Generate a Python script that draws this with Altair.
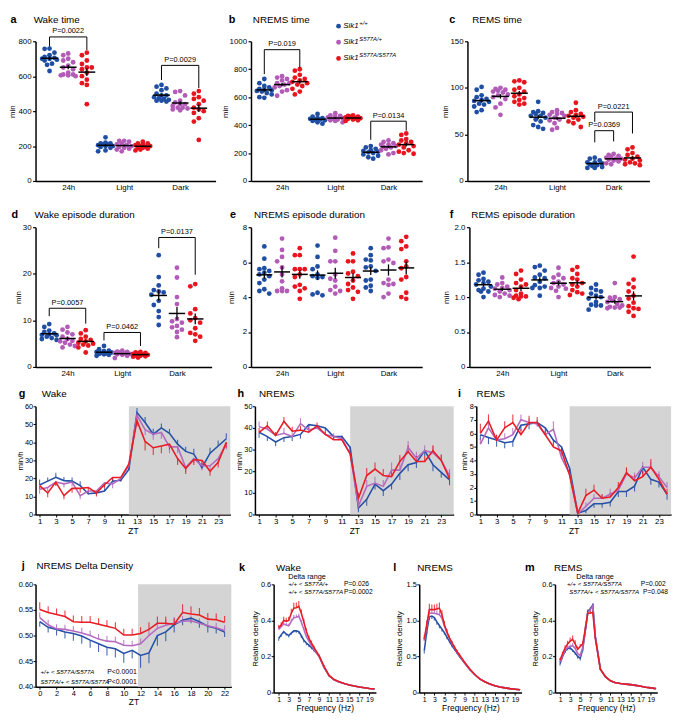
import math
import altair as alt
import numpy as np
import pandas as pd

FONT = "Liberation Sans"
BLUE, PURPLE, RED = "#1f4ea3", "#b35cb7", "#e8151e"
DOT_COLORS = [BLUE, PURPLE, RED]
LINE_COLORS = ["#2550a6", "#b46ac0", "#e81c24"]
CATS = ["24h", "Light", "Dark"]
GENOS = ["+/+", "S577A/+", "S577A/S577A"]

WAKE_TIME = {
    "24h": [[758, 757, 735, 720, 710, 705, 700, 700, 695, 690, 672, 665, 630],
            [730, 720, 700, 690, 680, 660, 650, 640, 620, 610, 610, 605, 605, 600],
            [735, 720, 690, 670, 650, 650, 640, 620, 600, 580, 560, 550, 440]],
    "Light": [[250, 220, 215, 215, 210, 210, 205, 200, 200, 195, 190, 175, 170],
              [230, 230, 225, 215, 210, 205, 200, 195, 190, 185, 180, 170],
              [225, 215, 215, 210, 205, 200, 200, 195, 190, 190, 185, 180, 175]],
    "Dark": [[550, 540, 530, 520, 500, 490, 490, 480, 475, 470, 465, 460, 460, 455],
             [515, 510, 490, 460, 450, 440, 440, 430, 420, 420, 415, 410, 405],
             [515, 500, 480, 470, 460, 440, 420, 410, 400, 390, 360, 340, 235]],
}
NREMS_TIME = {
    "24h": [[730, 700, 680, 670, 660, 655, 650, 645, 640, 630, 620, 600, 595],
            [750, 740, 730, 720, 700, 700, 690, 680, 670, 650, 640, 610],
            [800, 790, 760, 740, 730, 720, 710, 700, 690, 680, 660, 640, 620]],
    "Light": [[480, 460, 450, 450, 445, 440, 440, 435, 430, 420, 410],
              [485, 470, 465, 460, 455, 450, 445, 440, 435, 430, 420],
              [470, 465, 460, 460, 455, 450, 450, 445, 440, 435, 430]],
    "Dark": [[250, 240, 230, 220, 215, 210, 205, 200, 190, 180, 170, 160],
             [290, 280, 270, 260, 260, 250, 245, 240, 230, 220, 200, 190],
             [340, 330, 300, 290, 280, 270, 260, 250, 240, 220, 210, 200, 195]],
}
REMS_TIME = {
    "24h": [[101, 98, 92, 90, 88, 87, 86, 85, 83, 82, 80, 76, 74],
            [100, 99, 98, 97, 96, 95, 93, 92, 90, 88, 83, 79, 71],
            [108, 107, 106, 100, 98, 96, 93, 91, 89, 87, 85, 83, 82]],
    "Light": [[85, 75, 74, 73, 72, 70, 70, 68, 66, 64, 60, 58, 56],
              [76, 74, 73, 72, 71, 70, 68, 66, 65, 62, 57, 55],
              [84, 76, 74, 72, 71, 70, 69, 68, 66, 64, 62, 58]],
    "Dark": [[25, 24, 22, 20, 20, 19, 18, 17, 16, 15, 14, 14],
             [29, 28, 27, 26, 25, 24, 24, 23, 22, 21, 19, 18],
             [36, 34, 30, 28, 26, 24, 23, 22, 20, 19, 18, 17]],
}
WAKE_EPI = {
    "24h": [[9.2, 8.6, 7.8, 7.5, 7.2, 7.0, 6.9, 6.8, 6.5, 6.2, 6.0, 5.8],
            [8.6, 8.0, 7.4, 7.0, 6.5, 6.0, 5.6, 5.5, 5.2, 4.8, 4.5, 4.2],
            [7.9, 7.2, 6.5, 6.0, 5.8, 5.5, 5.2, 5.0, 4.8, 4.6, 4.2, 3.1]],
    "Light": [[4.5, 3.8, 3.5, 3.4, 3.2, 3.1, 3.0, 2.9, 2.8, 2.7, 2.6, 2.4],
              [3.5, 3.3, 3.2, 3.1, 3.0, 2.9, 2.8, 2.7, 2.6, 2.4, 1.9],
              [3.2, 3.1, 3.0, 2.9, 2.8, 2.7, 2.6, 2.5, 2.4, 2.3, 2.2, 2.0]],
    "Dark": [[24.0, 19.3, 17.5, 16.5, 16.2, 16.0, 15.5, 14.2, 13.3, 12.0, 10.7, 9.0],
             [21.3, 19.2, 15.0, 13.5, 10.3, 9.8, 9.5, 8.8, 8.5, 8.0, 7.5, 6.4],
             [17.8, 17.3, 12.4, 11.5, 10.5, 10.0, 9.5, 8.3, 7.3, 7.0, 6.5, 5.6]],
}
NREMS_EPI = {
    "24h": [[6.9, 6.2, 5.65, 5.6, 5.5, 5.4, 5.3, 5.2, 5.0, 4.8, 4.45, 4.35, 4.2],
            [7.35, 6.7, 6.3, 6.05, 5.7, 5.3, 4.9, 4.5, 4.35, 4.35, 4.35],
            [6.8, 6.4, 6.4, 5.6, 5.6, 5.6, 5.3, 5.15, 4.7, 4.6, 4.5, 4.35, 3.9]],
    "Light": [[6.95, 6.3, 5.75, 5.6, 5.3, 5.2, 5.15, 5.1, 4.25, 4.15, 4.1],
              [7.4, 6.65, 6.05, 6.05, 5.3, 5.05, 4.95, 4.6, 4.4, 4.35, 4.2],
              [6.5, 6.05, 6.05, 5.45, 5.35, 5.2, 4.95, 4.75, 4.55, 4.4, 4.3, 3.9]],
    "Dark": [[6.8, 6.4, 6.15, 6.1, 5.75, 5.7, 5.5, 5.0, 4.95, 4.65, 4.55, 4.35],
             [7.35, 6.85, 6.8, 6.15, 6.05, 5.95, 5.0, 4.8, 4.75, 4.7, 4.2, 4.0],
             [7.45, 7.2, 6.9, 6.75, 6.05, 5.75, 5.65, 5.15, 5.0, 4.25, 4.0, 3.9]],
}
REMS_EPI = {
    "24h": [[1.35, 1.32, 1.26, 1.24, 1.22, 1.2, 1.18, 1.15, 1.12, 1.1, 1.08, 1.08, 1.0],
            [1.28, 1.2, 1.18, 1.15, 1.13, 1.12, 1.1, 1.08, 1.05, 1.03, 1.02, 1.0],
            [1.38, 1.33, 1.25, 1.2, 1.18, 1.15, 1.1, 1.05, 1.02, 1.01, 1.01, 0.99, 0.97]],
    "Light": [[1.45, 1.43, 1.38, 1.32, 1.28, 1.27, 1.22, 1.17, 1.15, 1.13, 1.13, 1.02],
              [1.42, 1.32, 1.28, 1.27, 1.22, 1.2, 1.18, 1.15, 1.13, 1.12, 1.09, 1.0],
              [1.43, 1.39, 1.33, 1.27, 1.25, 1.2, 1.18, 1.15, 1.1, 1.07, 1.05, 1.03]],
    "Dark": [[1.18, 1.13, 1.1, 1.08, 1.05, 1.02, 1.0, 0.98, 0.93, 0.89, 0.88, 0.88, 0.82],
             [1.2, 1.0, 0.99, 0.97, 0.95, 0.93, 0.9, 0.88, 0.86, 0.85, 0.85, 0.84],
             [1.58, 1.25, 1.19, 1.14, 1.08, 1.02, 0.98, 0.92, 0.87, 0.84, 0.83, 0.79, 0.73]],
}

BRACKETS_A = [(0, 0, 2, 825, 770, 750, "P=0.0022"), (2, 0, 2, 662, 578, 532, "P=0.0029")]
BRACKETS_B = [(0, 0, 2, 940, 765, 812, "P=0.019"), (2, 0, 2, 428, 295, 360, "P=0.0134")]
BRACKETS_C = [(2, 0, 1, 54, 41.5, 42.5, "P=0.0369"), (2, 0, 2, 74, 63.5, 51, "P=0.0221")]
BRACKETS_D = [(0, 0, 2, 12.6, 10.9, 9.3, "P=0.0057"), (1, 0, 2, 7.4, 5.7, 4.5, "P=0.0462"),
              (2, 0, 2, 27.8, 25.5, 19.8, "P=0.0137")]

ZT = list(range(1, 25))
WAKE_ZT = [
    [16.4, 18.5, 20.6, 18.8, 18.5, 16, 11.5, 12, 13, 18.5, 19, 25, 56.5, 51, 44.5, 48, 45, 39, 35, 33.5, 26, 34, 38, 42],
    [14, 15, 18, 17, 18, 10.5, 13, 13, 17.5, 17, 20, 27, 55, 47, 44.5, 45.5, 37.5, 37.5, 26, 31, 27, 27, 31, 39],
    [16, 12, 18, 10.5, 14.5, 14.5, 15, 12, 16.5, 20.5, 20.5, 28, 52, 40.5, 37, 38, 39, 31, 25.5, 30.5, 30, 24, 29, 40],
]
WAKE_ZT_SEM = [
    [3, 2, 2.5, 2, 2, 2.5, 1.5, 1.5, 1.5, 2, 2, 2.5, 2.5, 3, 3, 2.5, 2.5, 2.5, 2.5, 3, 2.5, 3, 3, 3],
    [2.5, 2, 2, 2, 2.5, 2, 2, 2, 2, 2.5, 2, 2.5, 3, 3, 3, 3.5, 3.5, 3.5, 2.5, 2.5, 2.5, 2.5, 3, 3],
    [2, 2.5, 2, 2, 2.5, 2.5, 2, 2, 2, 2, 2, 2.5, 3, 5, 4, 4, 3, 3.5, 3, 3, 3, 2.5, 3, 3],
]
NREMS_ZT = [
    [38, 36, 33.5, 35.5, 36, 37, 41.5, 41, 40, 36, 36, 31, 3, 7, 14, 11, 14, 19, 23, 24, 29.5, 23, 19.5, 16],
    [40.5, 39.5, 36.5, 37.5, 36, 42, 39, 40, 37, 36, 35, 28, 4, 13, 14.5, 13, 20.5, 20.5, 31, 26, 29.5, 28.5, 25, 18],
    [38, 41, 36.5, 43, 38.5, 39, 38, 41, 37, 34.5, 34.5, 28, 7.5, 18, 21, 18, 17.5, 24.5, 29, 24.5, 24.5, 29.5, 25, 16.5],
]
NREMS_ZT_SEM = [
    [2.5, 2, 2, 2, 2, 2, 1.5, 1.5, 1.5, 1.5, 1.5, 2, 2, 3, 2.5, 2.5, 2.5, 3, 3, 2.5, 2.5, 3, 2.5, 2.5],
    [2.5, 2, 1.5, 2.5, 2, 2.5, 2, 1.5, 1.5, 1.5, 1.5, 2, 2.5, 3, 3, 3, 3.5, 3.5, 3, 3, 2.5, 3, 3, 3],
    [2, 2, 1.5, 2, 2, 2, 2, 1.5, 1.5, 1.5, 1.5, 2, 2.5, 3.5, 3, 3, 3, 3, 3, 2.5, 2.5, 2.5, 2.5, 2.5],
]
REMS_ZT = [
    [5.9, 5.7, 5.5, 5.3, 5.4, 6.6, 6.7, 6.8, 6.4, 5.5, 5.0, 3.4, 0.1, 0.3, 0.8, 0.8, 0.9, 1.7, 1.7, 2.1, 3.5, 2.6, 2.4, 1.5],
    [5.2, 6.4, 5.5, 5.6, 5.9, 7.0, 6.8, 6.7, 5.9, 6.3, 4.2, 3.0, 0.05, 0.6, 1.2, 1.2, 1.5, 1.8, 3.0, 2.7, 3.5, 3.5, 2.8, 2.0],
    [6.0, 6.9, 5.5, 6.4, 6.8, 5.9, 6.8, 6.8, 5.9, 5.0, 4.7, 2.9, 0.1, 1.4, 1.8, 1.2, 1.3, 2.0, 3.1, 2.5, 2.8, 3.5, 2.6, 1.5],
]
REMS_ZT_SEM = [
    [0.4, 0.5, 0.5, 0.4, 0.4, 0.4, 0.4, 0.3, 0.3, 0.3, 0.3, 0.4, 0.1, 0.2, 0.3, 0.3, 0.3, 0.4, 0.4, 0.4, 0.5, 0.4, 0.4, 0.4],
    [0.4, 0.5, 0.4, 0.4, 0.5, 0.4, 0.3, 0.3, 0.3, 0.6, 0.4, 0.4, 0.1, 0.3, 0.3, 0.3, 0.4, 0.4, 0.4, 0.4, 0.4, 0.4, 0.4, 0.4],
    [0.7, 0.5, 0.4, 0.5, 0.6, 0.4, 0.5, 0.4, 0.3, 0.3, 0.3, 0.4, 0.1, 0.5, 0.4, 0.3, 0.3, 0.4, 0.4, 0.4, 0.4, 0.6, 0.4, 0.4],
]

ZT_J = list(range(0, 23))
DELTA = [
    [0.527, 0.516, 0.512, 0.507, 0.504, 0.499, 0.491, 0.484, 0.477, 0.474, 0.465, 0.471, 0.461, 0.466, 0.500, 0.507, 0.521, 0.530, 0.534, 0.527, 0.518, 0.514, 0.507],
    [0.535, 0.521, 0.513, 0.512, 0.509, 0.505, 0.500, 0.493, 0.489, 0.488, 0.481, 0.480, 0.484, 0.500, 0.514, 0.520, 0.524, 0.528, 0.529, 0.524, 0.519, 0.515, 0.510],
    [0.551, 0.545, 0.541, 0.537, 0.527, 0.526, 0.526, 0.522, 0.518, 0.514, 0.501, 0.501, 0.504, 0.512, 0.524, 0.524, 0.522, 0.545, 0.542, 0.540, 0.532, 0.531, 0.526],
]
DELTA_SEM = [
    [0.01, 0.01, 0.012, 0.013, 0.014, 0.015, 0.015, 0.016, 0.016, 0.017, 0.018, 0.016, 0.024, 0.02, 0.02, 0.018, 0.015, 0.01, 0.01, 0.012, 0.012, 0.01, 0.01],
    [0.01, 0.01, 0.009, 0.009, 0.009, 0.01, 0.01, 0.01, 0.01, 0.01, 0.01, 0.01, 0.01, 0.012, 0.012, 0.012, 0.012, 0.01, 0.01, 0.01, 0.01, 0.01, 0.01],
    [0.014, 0.012, 0.012, 0.012, 0.012, 0.012, 0.012, 0.012, 0.012, 0.012, 0.012, 0.012, 0.012, 0.014, 0.013, 0.013, 0.012, 0.016, 0.015, 0.014, 0.012, 0.012, 0.012],
]

FREQ = [1, 1.5, 2, 2.5, 3, 3.5, 4, 4.5, 5, 5.5, 6, 6.5, 7, 7.5, 8, 9, 10, 11, 12, 13, 14, 15, 16, 17, 18, 19, 20]
SPEC_WAKE = [
    [0.30, 0.32, 0.338, 0.325, 0.316, 0.33, 0.343, 0.342, 0.338, 0.315, 0.29, 0.275, 0.263, 0.25, 0.236, 0.205, 0.14, 0.093, 0.071, 0.059, 0.05, 0.042, 0.036, 0.031, 0.027, 0.023, 0.02],
    [0.35, 0.365, 0.38, 0.375, 0.37, 0.395, 0.415, 0.418, 0.423, 0.39, 0.35, 0.31, 0.285, 0.26, 0.24, 0.2, 0.14, 0.093, 0.071, 0.059, 0.05, 0.042, 0.036, 0.031, 0.027, 0.023, 0.02],
    [0.36, 0.375, 0.40, 0.395, 0.40, 0.44, 0.468, 0.47, 0.478, 0.44, 0.39, 0.34, 0.30, 0.275, 0.25, 0.205, 0.145, 0.095, 0.072, 0.06, 0.05, 0.042, 0.036, 0.031, 0.027, 0.023, 0.02],
]
SPEC_WAKE_SEM = [
    [0.012, 0.01, 0.01, 0.01, 0.01, 0.01, 0.01, 0.01, 0.012, 0.012, 0.012, 0.012, 0.012, 0.01, 0.008, 0.006, 0.005, 0.004, 0.003, 0.003, 0.002, 0.002, 0.002, 0.002, 0.002, 0.002, 0.002],
    [0.01, 0.01, 0.012, 0.012, 0.012, 0.015, 0.015, 0.015, 0.015, 0.012, 0.012, 0.01, 0.01, 0.01, 0.008, 0.006, 0.005, 0.004, 0.003, 0.003, 0.002, 0.002, 0.002, 0.002, 0.002, 0.002, 0.002],
    [0.015, 0.015, 0.02, 0.02, 0.02, 0.025, 0.03, 0.03, 0.03, 0.02, 0.02, 0.015, 0.015, 0.012, 0.01, 0.008, 0.006, 0.004, 0.003, 0.003, 0.002, 0.002, 0.002, 0.002, 0.002, 0.002, 0.002],
]
SPEC_NREMS = [
    [0.58, 0.85, 1.05, 1.06, 1.04, 0.98, 0.93, 0.88, 0.83, 0.77, 0.71, 0.65, 0.6, 0.55, 0.5, 0.41, 0.32, 0.25, 0.19, 0.15, 0.12, 0.095, 0.078, 0.065, 0.055, 0.047, 0.04],
    [0.72, 0.92, 1.10, 1.10, 1.10, 1.09, 1.08, 1.03, 0.92, 0.83, 0.75, 0.68, 0.62, 0.56, 0.51, 0.41, 0.32, 0.25, 0.19, 0.15, 0.12, 0.095, 0.078, 0.065, 0.055, 0.047, 0.04],
    [0.74, 0.95, 1.15, 1.15, 1.15, 1.16, 1.17, 1.08, 0.94, 0.84, 0.76, 0.69, 0.63, 0.57, 0.52, 0.42, 0.33, 0.25, 0.19, 0.15, 0.12, 0.095, 0.078, 0.065, 0.055, 0.047, 0.04],
]
SPEC_NREMS_SEM = [
    [0.04, 0.04, 0.04, 0.04, 0.04, 0.04, 0.04, 0.035, 0.03, 0.03, 0.025, 0.02, 0.02, 0.015, 0.012, 0.01, 0.008, 0.006, 0.005, 0.004, 0.004, 0.003, 0.003, 0.003, 0.003, 0.003, 0.003],
    [0.05, 0.04, 0.05, 0.05, 0.05, 0.05, 0.05, 0.04, 0.04, 0.03, 0.03, 0.025, 0.02, 0.02, 0.015, 0.012, 0.01, 0.008, 0.006, 0.005, 0.004, 0.004, 0.003, 0.003, 0.003, 0.003, 0.003],
    [0.06, 0.05, 0.08, 0.07, 0.07, 0.07, 0.08, 0.06, 0.05, 0.04, 0.03, 0.03, 0.025, 0.02, 0.02, 0.015, 0.012, 0.01, 0.008, 0.006, 0.005, 0.004, 0.004, 0.003, 0.003, 0.003, 0.003],
]
SPEC_REMS = [
    [0.16, 0.2, 0.23, 0.245, 0.248, 0.235, 0.22, 0.2, 0.19, 0.24, 0.34, 0.45, 0.465, 0.485, 0.31, 0.13, 0.088, 0.065, 0.055, 0.05, 0.047, 0.044, 0.04, 0.035, 0.03, 0.026, 0.022],
    [0.17, 0.205, 0.235, 0.25, 0.255, 0.26, 0.245, 0.215, 0.205, 0.25, 0.34, 0.44, 0.46, 0.48, 0.31, 0.13, 0.088, 0.065, 0.055, 0.05, 0.047, 0.044, 0.04, 0.035, 0.03, 0.026, 0.022],
    [0.18, 0.215, 0.247, 0.27, 0.285, 0.295, 0.27, 0.24, 0.255, 0.27, 0.35, 0.44, 0.44, 0.445, 0.30, 0.13, 0.088, 0.065, 0.055, 0.05, 0.047, 0.044, 0.04, 0.035, 0.03, 0.026, 0.022],
]
SPEC_REMS_SEM = [
    [0.01, 0.01, 0.01, 0.01, 0.01, 0.01, 0.012, 0.012, 0.012, 0.012, 0.015, 0.015, 0.015, 0.015, 0.012, 0.006, 0.004, 0.003, 0.003, 0.003, 0.003, 0.003, 0.003, 0.003, 0.002, 0.002, 0.002],
    [0.01, 0.01, 0.012, 0.012, 0.012, 0.015, 0.015, 0.012, 0.012, 0.012, 0.015, 0.015, 0.015, 0.015, 0.012, 0.006, 0.004, 0.003, 0.003, 0.003, 0.003, 0.003, 0.003, 0.003, 0.002, 0.002, 0.002],
    [0.012, 0.012, 0.015, 0.018, 0.02, 0.022, 0.02, 0.015, 0.015, 0.015, 0.02, 0.02, 0.02, 0.02, 0.015, 0.008, 0.005, 0.004, 0.003, 0.003, 0.003, 0.003, 0.003, 0.003, 0.002, 0.002, 0.002],
]

# ============================================================================
ONE = pd.DataFrame({"k": [0]})


def frame(W, H, L, R, T, B):
    # invisible outer box of each panel: fixes the concat layout
    return alt.Chart(ONE).mark_rect(opacity=0).encode(
        x=alt.value(-L), x2=alt.value(W + R), y=alt.value(-T), y2=alt.value(H + B))


def label(text, x, y, size=8.0, weight="normal", style="normal", align="left",
          baseline="middle"):
    return alt.Chart(ONE).mark_text(
        text=text, font=FONT, fontSize=size, fontWeight=weight, fontStyle=style,
        align=align, baseline=baseline, color="black").encode(x=alt.value(x), y=alt.value(y))


def heading(letter, title, lx, tx, ty):
    return [label(letter, lx, ty, size=11, weight="bold"), label(title, tx, ty, size=10)]


def swarm(vals, ypx, xpx, d=5.0):
    order = sorted(range(len(vals)), key=lambda i: -vals[i])
    placed, out = [], [0.0] * len(vals)
    cands = [0.0, -5.0, 5.0, -2.5, 2.5, -7.5, 7.5]
    for i in order:
        y = vals[i] * ypx
        best, bestc, bestd = None, 0.0, -1.0
        for c in cands:
            md = min((math.hypot(c - px, y - py) for px, py in placed), default=1e9)
            if md >= d:
                best = c
                break
            if md > bestd:
                bestd, bestc = md, c
        if best is None:
            best = bestc
        placed.append((best, y))
        out[i] = best / xpx
    return out


XD = [-1.75, 7.9]


def dot_panel(data, ymax, yticks, ylab_expr, geom, head, brackets, ytx, extra=()):
    W, H, L, R, T, B = geom
    xpx = W / (XD[1] - XD[0])
    ypx = H / ymax
    pts, stats = [], []
    for ci, cat in enumerate(CATS):
        for gi in range(3):
            vals = data[cat][gi]
            c = 3 * ci + gi - 1
            for v, o in zip(vals, swarm(vals, ypx, xpx)):
                pts.append({"x": c + o, "v": v, "g": GENOS[gi]})
            m = float(np.mean(vals))
            se = float(np.std(vals, ddof=1) / math.sqrt(len(vals)))
            stats.append({"x": c - 0.45, "x2": c + 0.45, "xc": c, "v": m, "lo": m - se, "hi": m + se})
    pts = pd.DataFrame(pts)
    stats = pd.DataFrame(stats)

    xaxis = alt.Axis(values=[0, 3, 6],
                     labelExpr="datum.value == 0 ? '24h' : datum.value == 3 ? 'Light' : 'Dark'",
                     ticks=False, title=None, labelFontSize=8, labelPadding=3,
                     labelFlush=False, domainWidth=1.5)
    yaxis = alt.Axis(values=yticks, labelExpr=ylab_expr, tickSize=3, tickWidth=1.2,
                     domainWidth=1.5, labelFontSize=8, labelPadding=1.5, labelFlush=False,
                     labelOverlap=False, title="min", titleX=ytx, titleY=H / 2, titleAngle=270,
                     titleAlign="center", titleBaseline="bottom", titleFontSize=8)

    def X(f):
        return alt.X(f + ":Q", scale=alt.Scale(domain=XD, nice=False, zero=False), axis=xaxis)

    def Y(f):
        return alt.Y(f + ":Q", scale=alt.Scale(domain=[0, ymax], nice=False), axis=yaxis)

    dots = alt.Chart(pts).mark_circle(size=24, opacity=1).encode(
        x=X("x"), y=Y("v"),
        color=alt.Color("g:N", scale=alt.Scale(domain=GENOS, range=DOT_COLORS), legend=None))
    means = alt.Chart(stats).mark_rule(color="black", strokeWidth=1.5).encode(
        x=X("x"), x2=alt.X2("x2"), y=Y("v"))
    sems = alt.Chart(stats).mark_rule(color="black", strokeWidth=1.3).encode(
        x=X("xc"), y=Y("lo"), y2=alt.Y2("hi"))

    segs, labs = [], []
    for ci, g1, g2, top, b1, b2, txt in brackets:
        xl, xr = 3 * ci + g1 - 1, 3 * ci + g2 - 1
        segs += [{"sx": xl, "sx2": xr, "sy": top, "sy2": top},
                 {"sx": xl, "sx2": xl, "sy": top, "sy2": b1},
                 {"sx": xr, "sx2": xr, "sy": top, "sy2": b2}]
        labs.append({"xm": (xl + xr) / 2, "top": top, "label": txt})
    layers = [frame(W, H, L, R, T, B), dots, means, sems]
    if segs:
        layers.append(alt.Chart(pd.DataFrame(segs)).mark_rule(color="black", strokeWidth=1).encode(
            x=X("sx"), x2=alt.X2("sx2"), y=Y("sy"), y2=alt.Y2("sy2")))
        layers.append(alt.Chart(pd.DataFrame(labs)).mark_text(
            font=FONT, fontSize=7.5, baseline="bottom", dy=-1.5, color="black").encode(
            x=X("xm"), y=Y("top"), text="label:N"))
    layers += heading(*head) + list(extra)
    return alt.layer(*layers).properties(width=W, height=H)


def series_panel(xs, series, sems, signs, xdom, xticks, xtitle, ydom, yticks, ylab_expr,
                 geom, head, ytitle, ytx, gray=None, extra=(), xlab=8.0, ylab=8.0):
    W, H, L, R, T, B = geom
    xaxis = alt.Axis(values=xticks, tickSize=2.5, tickWidth=1, labelFontSize=xlab,
                     labelPadding=0.5, labelOverlap=False, labelFlush=False, title=xtitle,
                     titleFontSize=8.5, titlePadding=1, domainWidth=1.5)
    ykw = dict(values=yticks, labelExpr=ylab_expr, tickSize=2.5, tickWidth=1, labelFontSize=ylab,
               labelPadding=0.5, labelFlush=False, labelOverlap=False, domainWidth=1.5)
    if ytitle:
        ykw.update(title=ytitle, titleX=ytx, titleY=H / 2, titleAngle=270, titleAlign="center",
                   titleBaseline="bottom", titleFontSize=8)
    else:
        ykw.update(title=None)
    yaxis = alt.Axis(**ykw)

    def X(f):
        return alt.X(f + ":Q", scale=alt.Scale(domain=xdom, nice=False, zero=False), axis=xaxis)

    def Y(f):
        return alt.Y(f + ":Q", scale=alt.Scale(domain=ydom, nice=False, zero=False), axis=yaxis)

    layers = [frame(W, H, L, R, T, B)]
    if gray is not None:
        layers.append(alt.Chart(pd.DataFrame({"a": [gray[0]], "b": [gray[1]]})).mark_rect(
            color="#d4d4d4").encode(x=X("a"), x2=alt.X2("b"), y=alt.value(0), y2=alt.value(H)))
    dfs = []
    for gi in range(3):
        dfs.append(pd.DataFrame({"x": xs, "v": series[gi],
                                 "e": [v + signs[gi] * s for v, s in zip(series[gi], sems[gi])]}))
    for gi in range(3):
        layers.append(alt.Chart(dfs[gi]).mark_rule(color=LINE_COLORS[gi], strokeWidth=1.1,
                                                   opacity=0.85).encode(
            x=X("x"), y=Y("v"), y2=alt.Y2("e")))
    for gi in range(3):
        layers.append(alt.Chart(dfs[gi]).mark_line(color=LINE_COLORS[gi], strokeWidth=1.6).encode(
            x=X("x"), y=Y("v")))
    layers += heading(*head) + list(extra)
    return alt.layer(*layers).properties(width=W, height=H)


INT = "format(datum.value, 'd')"
ONE_DEC = "datum.value == 0 ? '0' : format(datum.value, '.1f')"

R1T, R1B, R2T, R2B, R3T, R3B, R4T, R4B = 27, 26, 21, 22, 18, 46, 23, 13

legend = []
for gi, (sup, ly) in enumerate(zip(GENOS, [-15.4, 1.0, 17.4])):
    legend.append(alt.Chart(ONE).mark_circle(size=24, opacity=1, color=DOT_COLORS[gi]).encode(
        x=alt.value(89), y=alt.value(ly)))
    legend.append(label("Sik1", 93.8, ly, size=8, style="italic"))
    legend.append(label(sup, 110.0, ly - 3.5, size=6, style="italic"))

pa = dot_panel(WAKE_TIME, 800, [0, 200, 400, 600, 800], INT, (183, 142, 27.4, 4.6, R1T, R1B),
               ("a", "Wake time", -25.4, -1.9, -22), BRACKETS_A, -19.5)
pb = dot_panel(NREMS_TIME, 1000, [0, 200, 400, 600, 800, 1000], INT, (174, 142, 31, 19.5, R1T, R1B),
               ("b", "NREMS time", -22.6, 1.9, -22), BRACKETS_B, -22.0, extra=legend)
pc = dot_panel(REMS_TIME, 150, [0, 50, 100, 150], INT, (185, 142, 26, 10, R1T, R1B),
               ("c", "REMS time", -18.6, 4.9, -22), BRACKETS_C, -18.0)

pd_ = dot_panel(WAKE_EPI, 30, [0, 10, 20, 30], INT, (179, 142, 26.5, 15.5, R2T, R2B),
                ("d", "Wake episode duration", -24.5, -1.0, -12.8), BRACKETS_D, -13.4)
pe = dot_panel(NREMS_EPI, 8, [0, 2, 4, 6, 8], INT, (174, 142, 24, 20, R2T, R2B),
               ("e", "NREMS episode duration", -21.4, 3.0, -12.8), [], -15.4)
pf = dot_panel(REMS_EPI, 2, [0, 0.5, 1, 1.5, 2], ONE_DEC, (184, 142, 27.5, 10, R2T, R2B),
               ("f", "REMS episode duration", -20.0, 1.9, -12.8), [], -19.5)

ODD_ZT = list(range(1, 24, 2))
signs_g = [1, -1, -1]
signs_std = [-1, 1, 1]
pg = series_panel(ZT, WAKE_ZT, WAKE_ZT_SEM, signs_g, [0.5, 24.5], ODD_ZT, "ZT", [0, 60],
                  [0, 10, 20, 30, 40, 50, 60], INT, (198, 110, 19, 4, R3T, R3B),
                  ("g", "Wake", -17.1, 6.4, -12), "min/h", -11.0, gray=(12, 24.5), ylab=7.5)
ph = series_panel(ZT, NREMS_ZT, NREMS_ZT_SEM, signs_std, [0.5, 24.5], ODD_ZT, "ZT", [0, 50],
                  [0, 10, 20, 30, 40, 50], INT, (202, 110, 21, 2, R3T, R3B),
                  ("h", "NREMS", -17.6, 4.1, -12), "min/h", -11.5, gray=(12, 24.5), ylab=7.5)
pi = series_panel(ZT, REMS_ZT, REMS_ZT_SEM, signs_std, [0.5, 24.5], ODD_ZT, "ZT", [0, 8],
                  list(range(0, 9)), INT, (198, 110, 20.5, 3, R3T, R3B),
                  ("i", "REMS", -18.6, 0.3, -12), "min/h", -7.5, gray=(12, 24.5), ylab=7.5)

j_notes = [
    label("+/+ < S577A/S577A", 5.0, 89.2, size=6.2, style="italic"),
    label("P<0.0001", 72.8, 89.2, size=7),
    label("S577A/+ < S577A/S577A", 5.0, 99.5, size=6.2, style="italic"),
    label("P<0.0001", 72.8, 99.5, size=7),
]
pj = series_panel(ZT_J, DELTA, DELTA_SEM, signs_std, [-0.5, 22.8], list(range(0, 23, 2)), "ZT",
                  [0.40, 0.60], [0.40, 0.45, 0.50, 0.55, 0.60], "format(datum.value, '.2f')",
                  (199, 104, 19, 4.4, R4T + 1.7, R4B + 4.3),
                  ("j", "NREMS Delta Density", -14.1, 0.9, -18.4), None, 0,
                  gray=(11.7, 22.8), extra=j_notes, xlab=7.5, ylab=7.5)

ODD_F = list(range(1, 20, 2))
k_notes = [
    label("Delta range", 14.8, -7.9, size=7.4),
    label("+/+ < S577A/+", 14.8, 0, size=6.3, style="italic"),
    label("P=0.026", 71.5, 0, size=6.8),
    label("+/+ < S577A/S577A", 14.8, 7.9, size=6.3, style="italic"),
    label("P=0.0002", 71.5, 7.9, size=6.8),
]
m_notes = [
    label("Delta range", 21.5, -7.9, size=7.4),
    label("+/+ < S577A/S577A", 12.2, 0, size=6.3, style="italic"),
    label("P=0.002", 87.1, 0, size=6.8),
    label("S577A/+ < S577A/S577A", 14.5, 7.9, size=6.3, style="italic"),
    label("P=0.048", 89.4, 7.9, size=6.8),
]
pk = series_panel(FREQ, SPEC_WAKE, SPEC_WAKE_SEM, signs_std, [0, 20.3], ODD_F, "Frequency (Hz)",
                  [0, 0.6], [0, 0.2, 0.4, 0.6], ONE_DEC, (104, 110, 37.3, 15.3, R4T, R4B),
                  ("k", "Wake", -35.3, 2.5, -16.8), "Relative density", -14.0,
                  extra=k_notes, xlab=7, ylab=7.5)
pl = series_panel(FREQ, SPEC_NREMS, SPEC_NREMS_SEM, signs_std, [0, 20.3], ODD_F, "Frequency (Hz)",
                  [0, 1.5], [0, 0.5, 1.0, 1.5], ONE_DEC, (104, 110, 27.7, 0.8, R4T, R4B),
                  ("l", "NREMS", -26.5, -2.0, -16.8), "Relative density", -16.0, xlab=7, ylab=7.5)
pm = series_panel(FREQ, SPEC_REMS, SPEC_REMS_SEM, signs_std, [0, 20.3], ODD_F, "Frequency (Hz)",
                  [0, 0.6], [0, 0.2, 0.4, 0.6], ONE_DEC, (104, 110, 31.5, 20, R4T, R4B),
                  ("m", "REMS", -30.5, -1.1, -16.8), "Relative density", -15.7,
                  extra=m_notes, xlab=7, ylab=7.5)

chart = alt.vconcat(
    alt.hconcat(pa, pb, pc, spacing=0),
    alt.hconcat(pd_, pe, pf, spacing=0),
    alt.hconcat(pg, ph, pi, spacing=0),
    alt.hconcat(pj, pk, pl, pm, spacing=0),
    spacing=0,
).properties(padding=0).configure(font=FONT).configure_view(strokeWidth=0).configure_axis(
    grid=False, domainColor="black", tickColor="black", labelColor="black", titleColor="black",
    labelFont=FONT, titleFont=FONT, titleFontWeight="normal", zindex=1)

chart.save("out.html", embed_options={"renderer": "svg", "actions": False})
